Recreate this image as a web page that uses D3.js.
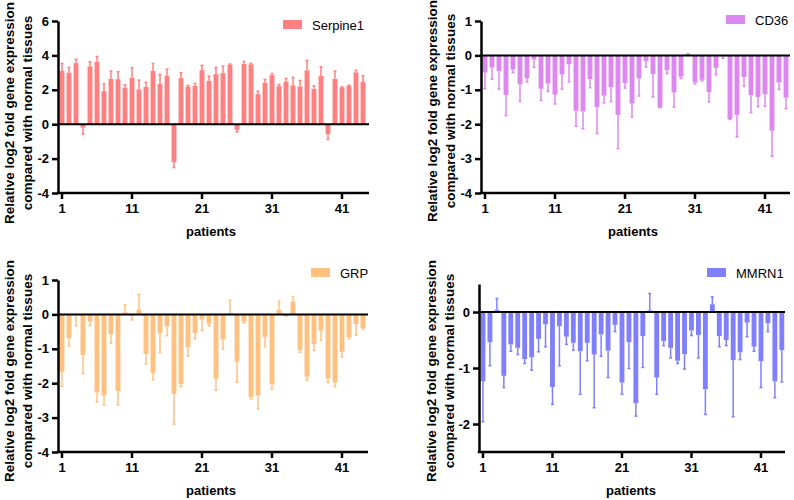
<!DOCTYPE html>
<html>
<head>
<meta charset="utf-8">
<script src="https://cdn.jsdelivr.net/npm/d3@7"></script>
<style>
  body { margin: 0; background: #fff; }
  svg { display: block; font-family: "Liberation Sans", Arial, sans-serif; }
</style>
</head>
<body>
<script>
var w = 794;
var h = 500;

// patients on the x axis
var patients = [1,2,3,4,5,6,7,8,9,10,11,12,13,14,15,16,17,18,19,20,21,22,
                23,24,25,26,27,28,29,30,31,32,33,34,35,36,37,38,39,40,41,42,43,44];
var xTickValues = [1, 11, 21, 31, 41];

// mean and error (one-sided) per patient
var serpine1Mean = [3.1,3.0,3.55,-0.2,3.36,3.63,1.92,2.64,2.62,2.12,2.7,2.02,2.17,3.1,2.35,2.82,-2.21,2.68,2.19,2.23,3.14,2.52,
                    2.91,2.97,3.46,-0.33,3.51,3.48,1.75,2.41,2.85,2.21,2.47,2.25,2.19,3.13,2.06,2.8,-0.58,2.64,2.14,2.23,3.01,2.47];
var serpine1Err  = [0.43,0.3,0.23,0.38,0.27,0.31,0.43,0.45,0.43,0.17,0.58,0.54,0.26,0.43,0.54,0.38,0.31,0.32,0.06,0.14,0.28,0.28,
                    0.39,0.41,0.04,0.12,0.14,0.05,0.17,0.19,0.1,0.1,0.19,0.47,0.35,0.58,0.17,0.54,0.31,0.45,0.03,0.04,0.12,0.35];

var cd36Mean = [-0.5,-0.35,-0.46,-1.15,-0.41,-0.84,-0.66,-0.12,-0.97,-0.82,-1.14,-0.56,-0.26,-1.61,-1.63,-0.69,-1.51,-1.17,-0.93,-1.73,-0.8,-1.4,
                -0.67,-0.17,-0.54,-1.51,-0.43,-1.08,-0.62,0.03,-0.79,-0.71,-1.06,-0.36,-0.03,-1.85,-1.73,-0.63,-1.16,-1.21,-1.13,-2.19,-0.79,-1.23];
var cd36Err  = [0.47,0.34,0.52,0.6,0.09,0.5,0.11,0.23,0.34,0.23,0.27,0.42,0.51,0.45,0.5,0.25,0.76,0.21,0.41,0.98,0.15,0.39,
                0.51,0.17,0.67,0.01,0.1,0.42,0.05,0.02,0.04,0.03,0.29,0.2,0.05,0.01,0.64,0.27,0.5,0.28,0.35,0.74,0.2,0.32];

var grpMean = [-1.67,-0.69,-0.02,-1.18,-0.21,-2.27,-2.36,-0.57,-2.23,0.06,-0.04,0.14,-1.15,-1.7,-0.55,-0.35,-2.31,-2.03,-0.96,-0.55,-0.15,-0.27,
               -1.87,-0.73,0.04,-1.38,-0.21,-2.41,-2.36,-0.65,-2.03,0.14,-0.03,0.37,-1.04,-1.81,-0.86,-0.47,-1.86,-1.98,-1.09,-0.66,-0.28,-0.4];
var grpErr  = [0.42,0.23,0.31,0.54,0.12,0.27,0.27,0.27,0.4,0.22,0.12,0.44,0.29,0.2,0.56,0.27,0.88,0.07,0.25,0.16,0.32,0.07,
               0.33,0.28,0.37,0.59,0.04,0.05,0.39,0.29,0.14,0.25,0.02,0.15,0.06,0.1,0.19,0.29,0.12,0.12,0.14,0.05,0.32,0.03];

var mmrn1Mean = [-1.24,-0.54,0.04,-1.14,-0.58,-0.64,-0.84,-0.81,-0.48,-0.22,-1.34,-0.25,-0.44,-0.55,-0.7,-0.55,-0.76,-0.4,-0.69,-0.23,-1.26,-0.54,
                 -1.63,-0.43,0.03,-1.17,-0.52,-0.64,-0.87,-0.75,-0.33,-0.41,-1.38,0.14,-0.43,-0.5,-0.86,-0.72,-0.19,-0.62,-0.88,-0.2,-1.24,-0.68];
var mmrn1Err  = [0.72,0.42,0.2,0.21,0.12,0.12,0.08,0.23,0.23,0.4,0.31,0.71,0.14,0.13,0.77,0.32,0.95,0.39,0.48,0.12,0.21,0.47,
                 0.23,0.56,0.3,0.3,0.08,0.18,0.05,0.27,0.09,0.41,0.45,0.13,0.19,0.1,1.01,0.13,0.25,0.08,0.47,0.15,0.29,0.57];

var yTicks1 = [-4, -2, 0, 2, 4, 6];
var yTicks2 = [-4, -3, -2, -1, 0, 1];
var yTicks3 = [-4, -3, -2, -1, 0, 1];
var yTicks4 = [-2, -1, 0];

var svg = d3.select("body")
    .append("svg")
    .attr("width", w)
    .attr("height", h);

function drawPanel(p) {
    var g = svg.append("g");

    var x = d3.scaleBand()
        .domain(patients)
        .range([p.x0, p.x0 + p.step * patients.length])
        .paddingInner(0.3)
        .paddingOuter(0.15);

    var y = d3.scaleLinear()
        .domain(p.domain)
        .range([p.bottom, p.top]);

    // bars
    g.selectAll("rect.bar")
        .data(patients)
        .enter().append("rect")
        .attr("class", "bar")
        .attr("x", function(d) { return x(d); })
        .attr("width", x.bandwidth())
        .attr("y", function(d, i) { return y(Math.max(0, p.mean[i])); })
        .attr("height", function(d, i) { return Math.abs(y(p.mean[i]) - y(0)); })
        .attr("fill", p.color);

    // error bars, drawn away from zero
    var ends = function(i) {
        return p.mean[i] >= 0 ? p.mean[i] + p.err[i] : p.mean[i] - p.err[i];
    };
    g.selectAll("line.err")
        .data(patients)
        .enter().append("line")
        .attr("class", "err")
        .attr("x1", function(d) { return x(d) + x.bandwidth() / 2; })
        .attr("x2", function(d) { return x(d) + x.bandwidth() / 2; })
        .attr("y1", function(d, i) { return y(p.mean[i]); })
        .attr("y2", function(d, i) { return y(ends(i)); })
        .attr("stroke", p.color)
        .attr("stroke-width", 1.5);
    g.selectAll("line.cap")
        .data(patients)
        .enter().append("line")
        .attr("class", "cap")
        .attr("x1", function(d) { return x(d) + x.bandwidth() / 2 - 1.5; })
        .attr("x2", function(d) { return x(d) + x.bandwidth() / 2 + 1.5; })
        .attr("y1", function(d, i) { return y(ends(i)); })
        .attr("y2", function(d, i) { return y(ends(i)); })
        .attr("stroke", p.color)
        .attr("stroke-width", 1.5);

    // zero line
    g.append("line")
        .attr("x1", p.axisX).attr("x2", p.xEnd)
        .attr("y1", y(0)).attr("y2", y(0))
        .attr("stroke", "#000").attr("stroke-width", 2);

    // y axis
    var yAxis = g.append("g")
        .attr("transform", "translate(" + p.axisX + ",0)")
        .call(d3.axisLeft(y).tickValues(p.yTicks).tickSize(6).tickSizeOuter(0).tickFormat(d3.format("d")));
    yAxis.select(".domain").attr("stroke-width", 2.5);
    yAxis.selectAll(".tick line").attr("stroke-width", 2.5);
    yAxis.selectAll(".tick text")
        .attr("x", -9)
        .style("font-size", "13px").style("font-weight", "bold").attr("fill", "#000")
        .text(function(d) { return d < 0 ? "-" + Math.abs(d) : d; });

    // x axis
    var xAxis = g.append("g")
        .attr("transform", "translate(0," + p.bottom + ")")
        .call(d3.axisBottom(x).tickValues(xTickValues).tickSize(6).tickSizeOuter(0));
    xAxis.select(".domain").remove();
    xAxis.append("line")
        .attr("x1", p.axisX - 1.25).attr("x2", p.xEnd)
        .attr("stroke", "#000").attr("stroke-width", 2.5);
    xAxis.selectAll(".tick line").attr("stroke-width", 2.5);
    xAxis.selectAll(".tick text")
        .attr("y", 11)
        .style("font-size", "13px").style("font-weight", "bold").attr("fill", "#000");

    // x title
    g.append("text")
        .attr("x", p.titleX).attr("y", p.bottom + 43)
        .attr("text-anchor", "middle")
        .style("font-size", "13px").style("font-weight", "bold")
        .text("patients");

    // y title, two lines
    var yt = g.append("text")
        .attr("transform", "translate(" + p.yTitleX + "," + p.yTitleY + ") rotate(-90)")
        .attr("text-anchor", "middle")
        .style("font-size", "13.5px").style("font-weight", "bold");
    yt.append("tspan").attr("x", 0).attr("y", 0).text("Relative log2 fold gene expression");
    yt.append("tspan").attr("x", 0).attr("y", 18).text("compared with normal tissues");

    // legend
    g.append("rect")
        .attr("x", p.legX).attr("y", p.legY)
        .attr("width", 19).attr("height", 9)
        .attr("fill", p.color);
    g.append("text")
        .attr("x", p.legX + 29).attr("y", p.legY + 9.5)
        .style("font-size", "13px")
        .text(p.name);
}

drawPanel({ name: "Serpine1", mean: serpine1Mean, err: serpine1Err, color: "#FF8080",
    domain: [-4, 6], yTicks: yTicks1, top: 21, bottom: 193,
    axisX: 58, x0: 58.5, step: 7, xEnd: 369, titleX: 211,
    yTitleX: 14, yTitleY: 113, legX: 283, legY: 20 });

drawPanel({ name: "CD36", mean: cd36Mean, err: cd36Err, color: "#DC88F0",
    domain: [-4, 1], yTicks: yTicks2, top: 21, bottom: 193,
    axisX: 481, x0: 481.5, step: 7, xEnd: 790, titleX: 633,
    yTitleX: 437, yTitleY: 111, legX: 726, legY: 15 });

drawPanel({ name: "GRP", mean: grpMean, err: grpErr, color: "#FFC080",
    domain: [-4, 1], yTicks: yTicks3, top: 280, bottom: 452,
    axisX: 58, x0: 58.5, step: 7, xEnd: 368, titleX: 211,
    yTitleX: 14, yTitleY: 371, legX: 311, legY: 268 });

drawPanel({ name: "MMRN1", mean: mmrn1Mean, err: mmrn1Err, color: "#8080FF",
    domain: [-2.5, 0.5], yTicks: yTicks4, top: 284, bottom: 452,
    axisX: 479, x0: 479.5, step: 6.95, xEnd: 785, titleX: 631,
    yTitleX: 436, yTitleY: 371, legX: 707, legY: 268 });
</script>
</body>
</html>
